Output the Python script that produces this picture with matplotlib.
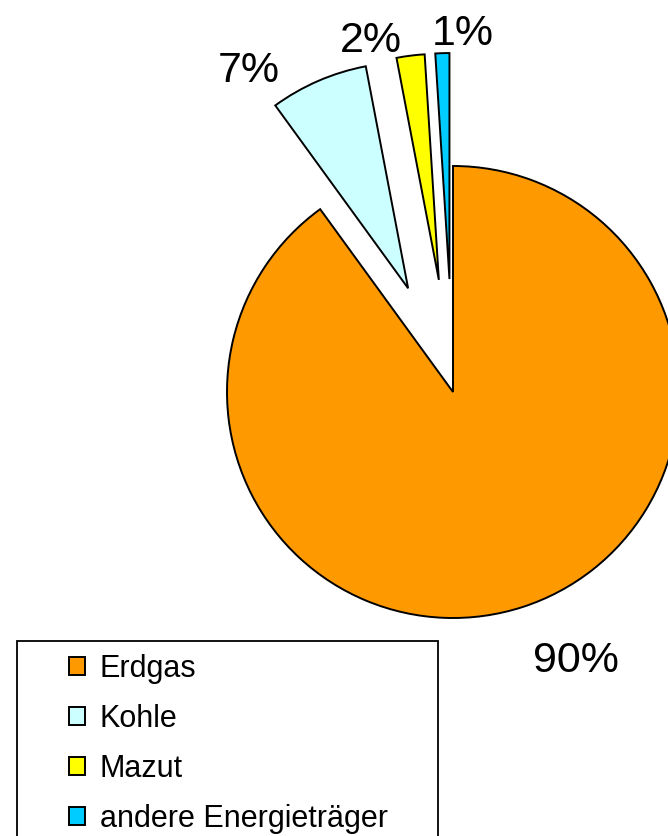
import matplotlib
matplotlib.use("Agg")
import matplotlib.pyplot as plt
from matplotlib.patches import Rectangle

plt.rcParams['font.family'] = ['Liberation Sans', 'DejaVu Sans']

categories = ['Erdgas', 'Kohle', 'Mazut', 'andere Energieträger']
values = [90, 7, 2, 1]
colors = ['#FF9900', '#CCFFFF', '#FFFF00', '#00CCFF']
explode = [0, 0.5, 0.5, 0.5]

# where the percentage labels sit (data units, pie radius = 1)
label_pos = [(0.544, -1.238), (-0.903, 1.372), (-0.365, 1.506), (0.044, 1.535)]

fig = plt.figure(figsize=(6.68, 8.36), dpi=100)
ax = fig.add_axes([0, 0, 1, 1])

wedges, _ = ax.pie(values, explode=explode, colors=colors, startangle=90,
                   counterclock=False, radius=1,
                   wedgeprops=dict(edgecolor='black', linewidth=1.4))

for v, (x, y) in zip(values, label_pos):
    ax.text(x, y, f"{v:.0f}%", fontsize=31, ha='center', va='baseline')

# pie radius = 226 px, centre at (453, 392) px from top-left
ax.set_xlim(-453 / 226, (668 - 453) / 226)
ax.set_ylim(-(836 - 392) / 226, 392 / 226)
ax.axis('off')

# legend box, running off the bottom edge
fig.add_artist(Rectangle((17 / 668, -0.1), (438 - 17) / 668, 0.1 + 1 - 641 / 836,
                         transform=fig.transFigure, fill=False,
                         edgecolor='black', linewidth=1.3))

fig.legend(wedges, categories, loc='upper left',
           bbox_to_anchor=(69 / 668, 1 - 654 / 836), frameon=False,
           fontsize=22, borderpad=0, borderaxespad=0,
           handlelength=0.52, handleheight=0.52, handletextpad=0.49,
           labelspacing=0.65)

fig.savefig('out.png', dpi=100)
